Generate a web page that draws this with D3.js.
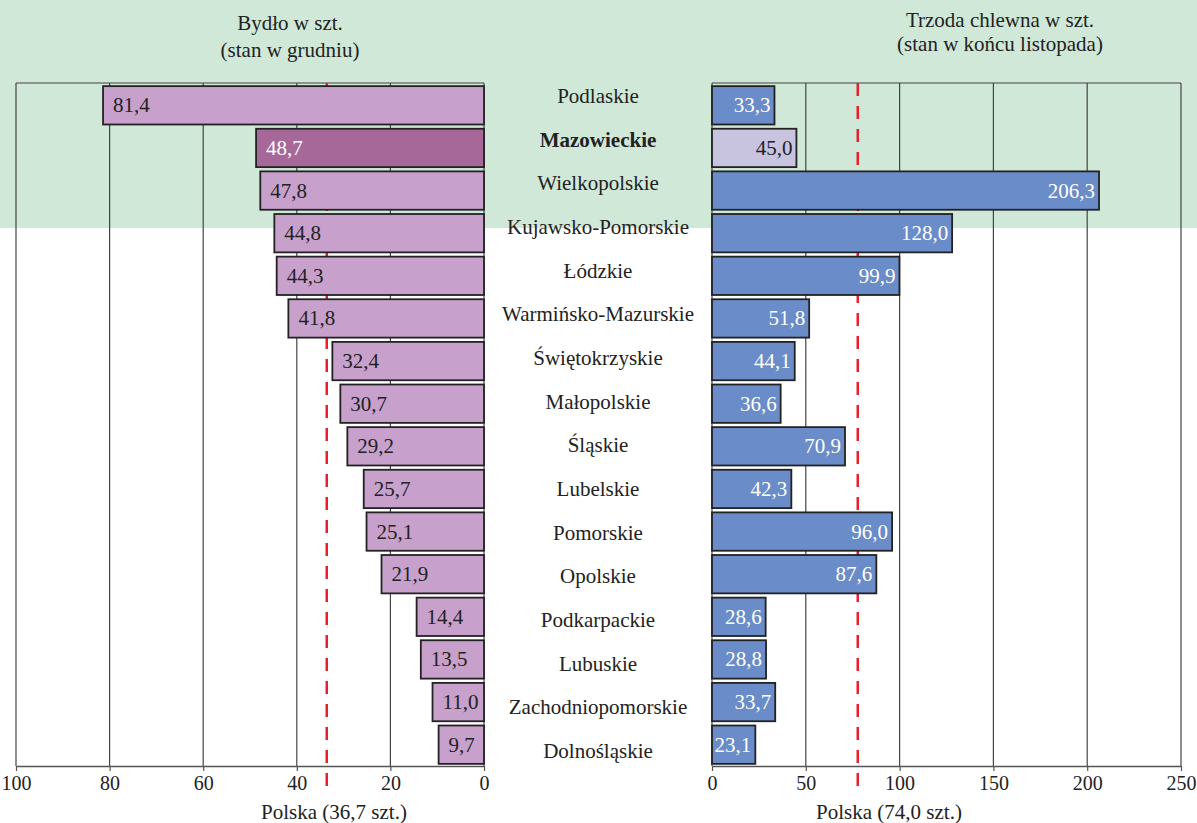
<!DOCTYPE html>
<html><head><meta charset="utf-8">
<script src="https://cdn.jsdelivr.net/npm/d3@7"></script>
<style>html,body{margin:0;padding:0;background:#fff;}svg{display:block;}
svg text{font-family:"Liberation Serif","Tinos","DejaVu Serif",serif;}</style>
</head><body>
<svg id="chart" width="1197" height="823"></svg>
<script>
const categories = ["Podlaskie","Mazowieckie","Wielkopolskie","Kujawsko-Pomorskie","Łódzkie","Warmińsko-Mazurskie","Świętokrzyskie","Małopolskie","Śląskie","Lubelskie","Pomorskie","Opolskie","Podkarpackie","Lubuskie","Zachodniopomorskie","Dolnośląskie"];
const cattle = [81.4,48.7,47.8,44.8,44.3,41.8,32.4,30.7,29.2,25.7,25.1,21.9,14.4,13.5,11.0,9.7];
const pigs = [33.3,45.0,206.3,128.0,99.9,51.8,44.1,36.6,70.9,42.3,96.0,87.6,28.6,28.8,33.7,23.1];
const highlight = "Mazowieckie";
const leftTicks = [0,20,40,60,80,100];
const rightTicks = [0,50,100,150,200,250];
const leftRefLine = 33.6;   // position of red dashed line as drawn
const rightRefLine = 77.7;
const leftTitle = ["Bydło w szt.","(stan w grudniu)"];
const rightTitle = ["Trzoda chlewna w szt.","(stan w końcu listopada)"];
const leftFooter = "Polska (36,7 szt.)";
const rightFooter = "Polska (74,0 szt.)";

const fmt = v => d3.format(".1f")(v).replace(".", ",");
const svg = d3.select("#chart");

svg.append("rect").attr("x",0).attr("y",0).attr("width",1197).attr("height",228).attr("fill","#d0e8d8");

const topY = 83, bottomY = 766;
const y = d3.scaleBand().domain(categories).range([84, 766]).paddingInner(0.1).paddingOuter(0.05);
const yLabel = d3.scalePoint().domain(categories).range([96, 751]);
const xL = d3.scaleLinear().domain([0,100]).range([484,16]);
const xR = d3.scaleLinear().domain([0,250]).range([712,1181]);

function panel(x, ticks, x0, x1) {
  const g = svg.append("g");
  g.append("line").attr("x1",Math.min(x0,x1)).attr("x2",Math.max(x0,x1)).attr("y1",topY).attr("y2",topY)
    .attr("stroke","#777").attr("stroke-width",1.5);
  g.selectAll("line.grid").data(ticks).join("line").attr("class","grid")
    .attr("x1",d=>x(d)).attr("x2",d=>x(d)).attr("y1",topY).attr("y2",bottomY)
    .attr("stroke","#444").attr("stroke-width",1.2);
  return g;
}
panel(xL, leftTicks, 16, 484);
panel(xR, rightTicks, 712, 1181);

// reference lines (behind bars)
[[xL,leftRefLine],[xR,rightRefLine]].forEach(([x,v])=>{
  svg.append("line").attr("x1",x(v)).attr("x2",x(v)).attr("y1",topY).attr("y2",786)
    .attr("stroke","#e8202a").attr("stroke-width",2.5).attr("stroke-dasharray","13,10");
});

// bars left
svg.append("g").selectAll("rect").data(categories).join("rect")
  .attr("x",(d,i)=>xL(cattle[i])).attr("width",(d,i)=>xL(0)-xL(cattle[i]))
  .attr("y",d=>y(d)).attr("height",y.bandwidth())
  .attr("fill",d=>d===highlight?"#a66898":"#c8a0cc")
  .attr("stroke","#222").attr("stroke-width",1.8);
svg.append("g").selectAll("text").data(categories).join("text")
  .attr("x",(d,i)=>xL(cattle[i])+10).attr("y",d=>y(d)+y.bandwidth()/2+7)
  .attr("font-size",21)
  .attr("fill",d=>d===highlight?"#fff":"#222")
  .text((d,i)=>fmt(cattle[i]));

// bars right
svg.append("g").selectAll("rect").data(categories).join("rect")
  .attr("x",xR(0)).attr("width",(d,i)=>xR(pigs[i])-xR(0))
  .attr("y",d=>y(d)).attr("height",y.bandwidth())
  .attr("fill",d=>d===highlight?"#c8c4e0":"#6a8cc8")
  .attr("stroke","#222").attr("stroke-width",1.8);
svg.append("g").selectAll("text").data(categories).join("text")
  .attr("x",(d,i)=>xR(pigs[i])-4).attr("y",d=>y(d)+y.bandwidth()/2+7)
  .attr("text-anchor","end")
  .attr("font-size",21)
  .attr("fill",d=>d===highlight?"#222":"#fff")
  .text((d,i)=>fmt(pigs[i]));

// category labels
svg.append("g").selectAll("text").data(categories).join("text")
  .attr("x",598).attr("y",d=>yLabel(d)+7)
  .attr("text-anchor","middle")
  .attr("font-size",21)
  .attr("font-weight",d=>d===highlight?"bold":"normal")
  .attr("fill","#222")
  .text(d=>d);

// axes
function axis(x, ticks) {
  const g = svg.append("g").attr("transform",`translate(0,${bottomY})`)
    .call(d3.axisBottom(x).tickValues(ticks).tickSize(5).tickSizeOuter(0).tickPadding(5));
  g.attr("font-family",null);
  g.select(".domain").attr("stroke","#555").attr("stroke-width",1.5);
  g.selectAll(".tick line").attr("stroke","#555").attr("stroke-width",1.2);
  g.selectAll(".tick text").attr("font-size",20).attr("fill","#222");
}
axis(xL, leftTicks);
axis(xR, rightTicks);

// titles
function txt(x, yy, s) {
  svg.append("text").attr("x",x).attr("y",yy).attr("text-anchor","middle")
    .attr("font-size",21).attr("fill","#222").text(s);
}
txt(290, 30, leftTitle[0]);
txt(290, 57, leftTitle[1]);
txt(1000, 27, rightTitle[0]);
txt(1000, 51, rightTitle[1]);
txt(334, 819, leftFooter);
txt(889, 819, rightFooter);
</script>
</body></html>
